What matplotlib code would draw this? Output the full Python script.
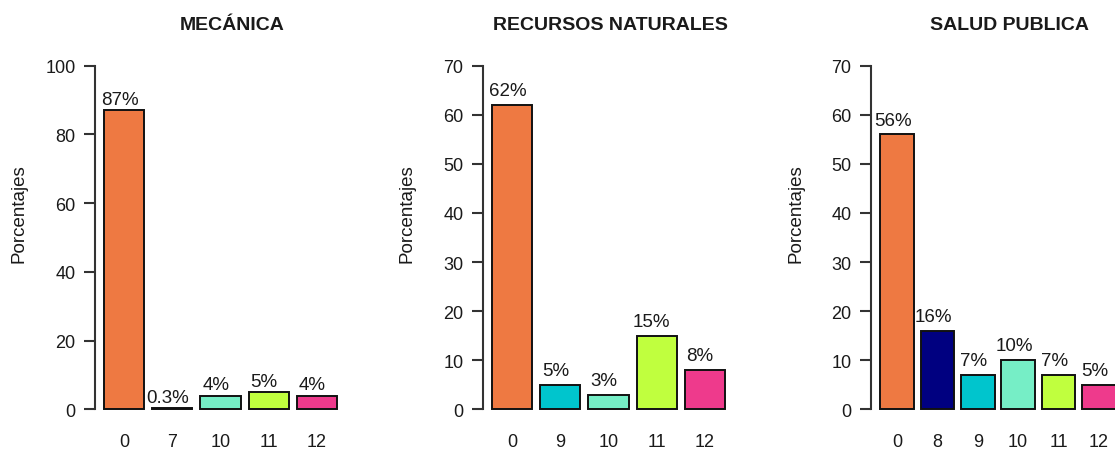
import matplotlib
matplotlib.use("Agg")
import matplotlib.pyplot as plt

plt.rcParams["font.family"] = ["Liberation Sans", "DejaVu Sans"]

# one entry per panel
titles = ["MECÁNICA", "RECURSOS NATURALES", "SALUD PUBLICA"]
cats_mec = ["0", "7", "10", "11", "12"]
vals_mec = [87, 0.3, 4, 5, 4]
cats_rec = ["0", "9", "10", "11", "12"]
vals_rec = [62, 5, 3, 15, 8]
cats_sal = ["0", "8", "9", "10", "11", "12"]
vals_sal = [56, 16, 7, 10, 7, 5]
ytops = [100, 70, 70]
ystep = [20, 10, 10]

# colour per category (R colour names)
COLORS = {
    "0": "#EE7942",   # sienna2
    "7": "#000080",
    "8": "#000080",   # navy
    "9": "#00C5CD",   # turquoise3
    "10": "#76EEC6",  # aquamarine2
    "11": "#C0FF3E",  # olivedrab1
    "12": "#EE3A8C",  # violetred2
}

W, H = 1115, 452
fig = plt.figure(figsize=(W / 100, H / 100), dpi=100)

panels = [(cats_mec, vals_mec), (cats_rec, vals_rec), (cats_sal, vals_sal)]
lefts = [95, 483, 871]
widths = [251, 251, 254]
title_x = [232, 610, 1009]
ylab_x = [19, 407, 796]
top_px, bot_px = 53, 424

for i, (cats, vals) in enumerate(panels):
    ax = fig.add_axes([lefts[i] / W, 1 - bot_px / H, widths[i] / W, (bot_px - top_px) / H])
    n = len(cats)
    centers = [0.7 + 1.2 * k for k in range(n)]
    ax.bar(centers, vals, width=1.0, color=[COLORS[c] for c in cats],
           edgecolor="#111111", linewidth=1.4)
    # labels sit ~3 units above each bar (a bit less in px on the 0-100 panel)
    off = 3.2 if i == 0 else 2.9
    for x, v in zip(centers, vals):
        ax.text(x - 0.12, v + off, f"{v:g}%", ha="center", va="center",
                fontsize=13.5, color="#1a1a1a")
    lo, hi = 0.2, 0.2 + 1.2 * (n - 1) + 1.0
    pad = 0.04 * (hi - lo)
    ax.set_xlim(lo - pad, hi + pad)
    top = ytops[i]
    ax.set_ylim(-0.04 * top, 1.04 * top)
    ax.set_yticks(range(0, top + 1, ystep[i]))
    ax.set_xticks(centers)
    ax.set_xticklabels(cats)
    for s in ("top", "right", "bottom"):
        ax.spines[s].set_visible(False)
    ax.spines["left"].set_bounds(0, top)
    ax.spines["left"].set_linewidth(1.5)
    ax.spines["left"].set_color("#333333")
    ax.tick_params(axis="y", length=8, width=1.5, color="#333333", pad=6,
                   labelsize=13, labelcolor="#1a1a1a")
    ax.tick_params(axis="x", length=0, pad=7, labelsize=13, labelcolor="#1a1a1a")
    ax.patch.set_visible(False)

    fig.text(title_x[i] / W, 1 - 25 / H, titles[i], ha="center", va="center",
             fontsize=14, fontweight="bold", color="#1a1a1a")
    fig.text(ylab_x[i] / W, 1 - 214 / H, "Porcentajes", rotation=90,
             ha="center", va="center", fontsize=13.5, color="#1a1a1a")

fig.savefig("out.png", dpi=100)
